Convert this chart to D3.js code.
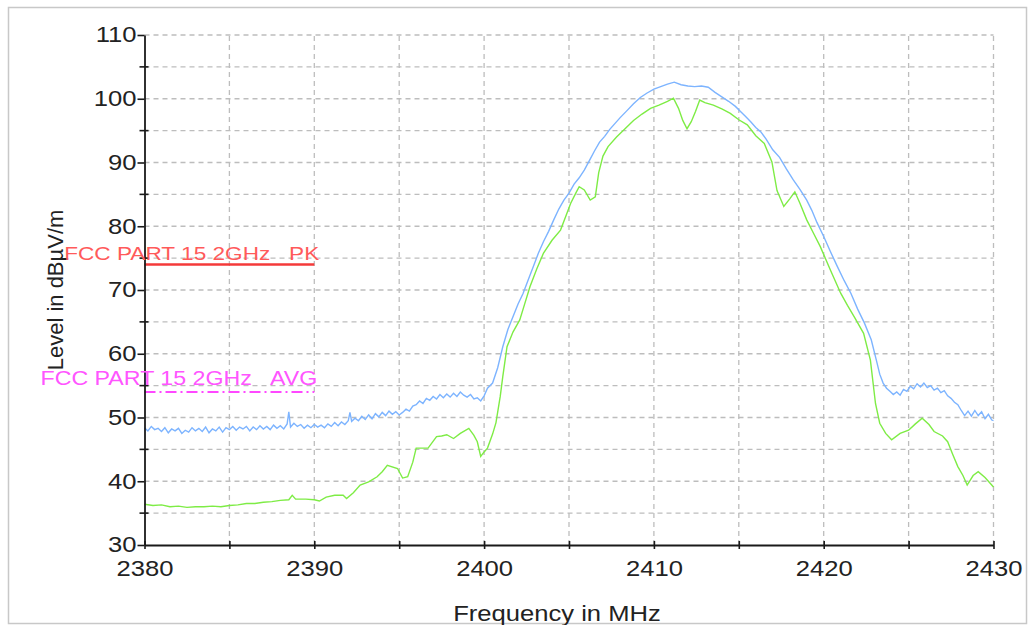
<!DOCTYPE html>
<meta charset="utf-8">
<script src="https://d3js.org/d3.v7.min.js"></script>
<style>
  body { margin: 0; background: #fff; }
  text { font-family: "Liberation Sans", Arial, sans-serif; }
</style>
<body>
<svg id="chart"></svg>
</body>
<script>
// sweep data (MHz, dBuV/m)
var peakFreq = [2380,2380.2,2380.4,2380.6,2380.8,2381,2381.2,2381.4,2381.6,2381.8,2382,2382.2,2382.4,2382.6,2382.8,2383,2383.2,2383.4,2383.6,2383.8,2384,2384.2,2384.4,2384.6,2384.8,2385,2385.2,2385.4,2385.6,2385.8,2386,2386.2,2386.4,2386.6,2386.8,2387,2387.2,2387.4,2387.6,2387.8,2388,2388.2,2388.4,2388.5,2388.6,2388.8,2389,2389.2,2389.4,2389.6,2389.8,2390,2390.2,2390.4,2390.6,2390.8,2391,2391.2,2391.4,2391.6,2391.8,2392,2392.1,2392.2,2392.4,2392.6,2392.8,2393,2393.2,2393.4,2393.6,2393.8,2394,2394.2,2394.4,2394.6,2394.8,2395,2395.2,2395.4,2395.6,2395.8,2396,2396.2,2396.4,2396.6,2396.8,2397,2397.2,2397.4,2397.6,2397.8,2398,2398.2,2398.4,2398.6,2398.8,2399,2399.2,2399.4,2399.6,2399.8,2400,2400.2,2400.5,2400.8,2401.1,2401.4,2401.7,2402,2402.3,2402.6,2402.9,2403.2,2403.5,2403.8,2404.1,2404.4,2404.7,2405,2405.3,2405.6,2405.9,2406.2,2406.5,2406.8,2407.1,2407.4,2407.7,2408,2408.4,2408.8,2409.2,2409.6,2410,2410.4,2410.8,2411.2,2411.6,2412,2412.4,2412.8,2413.2,2413.6,2414,2414.4,2414.8,2415.1,2415.4,2415.7,2416,2416.3,2416.6,2417,2417.4,2417.8,2418.2,2418.6,2419,2419.3,2419.6,2420,2420.4,2420.8,2421.2,2421.6,2422,2422.4,2422.8,2423.1,2423.3,2423.5,2423.7,2423.9,2424.1,2424.3,2424.5,2424.7,2424.9,2425.1,2425.3,2425.5,2425.7,2425.9,2426.1,2426.3,2426.5,2426.7,2426.9,2427.1,2427.3,2427.5,2427.7,2427.9,2428.1,2428.3,2428.5,2428.7,2428.9,2429.1,2429.3,2429.5,2429.7,2429.9,2430];
var peakLevel = [48.4,47.9,48.6,48.1,48.3,47.8,48.4,47.6,48.2,47.9,48.3,47.5,48.0,47.7,48.4,47.9,48.3,47.8,48.5,47.6,48.2,47.9,48.5,47.7,48.4,48.1,48.6,48.0,48.5,48.2,48.6,47.9,48.5,48.1,48.7,48.2,48.6,48.1,48.8,48.3,48.7,48.2,49.0,50.9,48.5,49.1,48.6,48.9,48.3,48.8,48.4,48.9,48.5,48.8,48.4,49.0,48.6,49.2,48.7,49.3,48.9,49.5,50.8,49.4,49.9,49.5,50.2,49.7,50.4,49.8,50.6,50.1,50.8,50.3,51.0,50.5,50.9,50.4,50.8,51.3,51.0,51.8,52.0,52.6,52.2,53.0,52.7,53.3,52.9,53.6,53.1,53.7,53.2,53.8,53.3,54.0,53.5,53.2,53.6,52.9,53.1,52.6,53.4,54.6,55.4,57.8,61.1,63.8,65.8,67.8,69.5,71.6,73.7,75.8,77.6,79.2,81.0,82.7,84.1,85.2,86.6,87.6,88.8,90.3,91.8,93.2,94.1,95.2,96.1,97.0,98.1,99.2,100.2,100.9,101.5,101.9,102.3,102.6,102.2,102.0,101.9,102.0,101.8,101.0,100.3,99.6,98.8,98.0,97.2,96.4,95.5,94.8,93.7,92.0,90.8,89.0,87.3,85.8,84.1,82.5,80.6,78.4,76.0,73.7,71.5,69.5,67.0,64.8,62.2,59.0,56.8,55.4,54.6,54.1,53.6,54.0,53.5,54.4,54.1,54.9,54.5,55.3,54.8,55.4,54.7,55.0,54.3,54.6,53.9,54.2,53.4,53.0,52.4,52.0,51.1,50.3,51.0,50.2,51.1,50.3,50.9,49.8,50.5,49.6,49.5];

var avgFreq = [2380,2380.5,2381,2381.5,2382,2382.5,2383,2383.5,2384,2384.5,2385,2385.5,2386,2386.5,2387,2387.5,2388,2388.5,2388.7,2388.9,2389.5,2390,2390.3,2390.7,2391.2,2391.7,2391.9,2392.3,2392.7,2393.2,2393.7,2394,2394.3,2394.9,2395.2,2395.5,2395.8,2396,2396.7,2397.2,2397.5,2397.8,2398.2,2398.6,2399.1,2399.4,2399.6,2399.8,2400,2400.2,2400.5,2400.7,2400.95,2401.1,2401.35,2401.7,2402.1,2402.4,2402.7,2403.1,2403.5,2404,2404.5,2404.8,2405.1,2405.4,2405.6,2405.9,2406.25,2406.55,2406.75,2407,2407.3,2407.8,2408.3,2408.8,2409.3,2409.8,2410.3,2410.8,2411.15,2411.45,2411.7,2411.95,2412.2,2412.45,2412.7,2413,2413.5,2414,2414.5,2415,2415.5,2416,2416.5,2416.95,2417.25,2417.65,2418,2418.3,2418.6,2419,2419.4,2419.8,2420.4,2421,2421.4,2421.8,2422.35,2422.75,2423.05,2423.3,2423.65,2424,2424.5,2425,2425.4,2425.8,2426.2,2426.5,2427,2427.3,2427.6,2427.9,2428.2,2428.45,2428.8,2429.1,2429.5,2430];
var avgLevel = [36.4,36.2,36.3,36.0,36.1,35.9,36.0,36.0,36.1,36.0,36.2,36.3,36.5,36.5,36.7,36.8,37.0,37.1,37.8,37.2,37.2,37.1,36.9,37.5,37.8,37.8,37.3,38.2,39.4,39.9,40.7,41.5,42.5,42.0,40.5,40.7,43.0,45.2,45.2,47.0,47.1,47.3,46.7,47.5,48.3,47.2,46.2,43.9,44.6,45.2,47.4,49.2,53.3,56.4,61.1,63.4,65.3,67.9,70.5,73.3,75.8,77.8,79.4,81.5,83.6,85.2,86.2,85.7,84.1,84.6,88.4,91.0,92.5,94.0,95.3,96.6,97.6,98.5,99.0,99.6,100.1,98.5,96.6,95.3,96.4,98.0,99.8,99.4,99.0,98.4,97.7,96.7,95.9,94.2,93.0,90.1,85.6,83.1,84.3,85.4,83.6,81.0,78.9,76.8,73.1,69.5,67.6,65.8,63.2,59.0,52.2,49.1,47.5,46.5,47.5,48.0,49.0,49.9,48.9,47.8,47.1,46.2,44.2,42.3,40.9,39.4,40.9,41.5,40.6,39.1];

// limit lines
var limitNames = ["FCC PART 15 2GHz   PK", "FCC PART 15 2GHz   AVG"];
var limitLevels = [74, 54];
var limitRange = [2380, 2390];

var xTickValues = [2380,2385,2390,2395,2400,2405,2410,2415,2420,2425,2430];
var yMajorTicks = [30,40,50,60,70,80,90,100,110];
var yMinorTicks = [35,45,55,65,75,85,95,105];
var yGridValues = [30,35,40,45,50,55,60,65,70,75,80,85,90,95,100,105,110];

var width = 1033, height = 625;
var stretchX = 1.19;

var svg = d3.select("#chart")
    .attr("width", width)
    .attr("height", height);

var x = d3.scaleLinear().domain([2380, 2430]).range([144.5, 993.5]);
var y = d3.scaleLinear().domain([30, 110]).range([545, 35]);

// outer frame
svg.append("rect")
    .attr("x", 8.5).attr("y", 7.5)
    .attr("width", 1018).attr("height", 616)
    .attr("fill", "none")
    .attr("stroke", "#c8c8c8")
    .attr("stroke-width", 1.5);

// grid
var grid = svg.append("g")
    .attr("stroke", "#bdbdbd")
    .attr("stroke-width", 1.3)
    .attr("stroke-dasharray", "5,4");

grid.selectAll(".hg")
    .data(yGridValues.slice(1))
  .enter().append("line")
    .attr("x1", x(2380)).attr("x2", x(2430))
    .attr("y1", function(d) { return y(d); })
    .attr("y2", function(d) { return y(d); });

grid.selectAll(".vg")
    .data(xTickValues.slice(1))
  .enter().append("line")
    .attr("x1", function(d) { return x(d); })
    .attr("x2", function(d) { return x(d); })
    .attr("y1", y(30)).attr("y2", y(110));

// limit lines
svg.append("line")
    .attr("x1", x(limitRange[0])).attr("x2", x(limitRange[1]))
    .attr("y1", y(limitLevels[0])).attr("y2", y(limitLevels[0]))
    .attr("stroke", "#f43a3a")
    .attr("stroke-width", 2.5);

svg.append("line")
    .attr("x1", x(limitRange[0])).attr("x2", x(limitRange[1]))
    .attr("y1", y(limitLevels[1])).attr("y2", y(limitLevels[1]))
    .attr("stroke", "#ff48ff")
    .attr("stroke-width", 2)
    .attr("stroke-dasharray", "11,4,2,4");

// traces
var line = d3.line()
    .x(function(d) { return x(d[0]); })
    .y(function(d) { return y(d[1]); });

svg.append("path")
    .datum(peakFreq.map(function(f, i) { return [f, peakLevel[i]]; }))
    .attr("d", line)
    .attr("fill", "none")
    .attr("stroke", "#7db4ff")
    .attr("stroke-width", 1.4);

svg.append("path")
    .datum(avgFreq.map(function(f, i) { return [f, avgLevel[i]]; }))
    .attr("d", line)
    .attr("fill", "none")
    .attr("stroke", "#7eec45")
    .attr("stroke-width", 1.4);

// axes
var yAxis = svg.append("g")
    .attr("transform", "translate(" + x(2380) + ",0)")
    .call(d3.axisLeft(y).tickValues(yMajorTicks).tickSize(7).tickSizeOuter(0).tickPadding(1));

var xAxis = svg.append("g")
    .attr("transform", "translate(0," + y(30) + ")")
    .call(d3.axisBottom(x).tickValues(xTickValues).tickSize(4).tickSizeOuter(0).tickPadding(12)
      .tickFormat(function(d) { return d % 10 === 0 ? d : ""; }));

xAxis.selectAll(".tick line").attr("y1", -4);

[yAxis, xAxis].forEach(function(a) {
  a.select(".domain").attr("stroke", "#1a1a1a").attr("stroke-width", 1.8);
  a.selectAll(".tick line").attr("stroke", "#1a1a1a").attr("stroke-width", 1.6);
  a.selectAll(".tick text")
    .attr("fill", "#222")
    .style("font-size", "21.5px")
    .style("font-family", "'Liberation Sans', Arial, sans-serif");
});

svg.append("g")
  .selectAll("line")
    .data(yMinorTicks)
  .enter().append("line")
    .attr("x1", x(2380) - 5).attr("x2", x(2380) + 4)
    .attr("y1", function(d) { return y(d); })
    .attr("y2", function(d) { return y(d); })
    .attr("stroke", "#1a1a1a")
    .attr("stroke-width", 1.6);

// axis titles
svg.append("text")
    .attr("class", "hz")
    .attr("x", 557).attr("y", 621)
    .attr("text-anchor", "middle")
    .attr("fill", "#222")
    .style("font-size", "21.5px")
    .text("Frequency in MHz");

svg.append("text")
    .attr("transform", "translate(63,290) rotate(-90)")
    .attr("text-anchor", "middle")
    .attr("fill", "#222")
    .style("font-size", "22px")
    .text("Level in dBµV/m");

// limit labels
svg.append("text")
    .attr("class", "hz")
    .attr("x", x(limitRange[1]) + 5).attr("y", y(limitLevels[0]) - 5)
    .attr("text-anchor", "end")
    .attr("fill", "#ff5a5a")
    .style("font-size", "19px")
    .style("white-space", "pre")
    .text(limitNames[0]);

svg.append("text")
    .attr("class", "hz")
    .attr("x", x(limitRange[1]) + 3).attr("y", y(limitLevels[1]) - 7)
    .attr("text-anchor", "end")
    .attr("fill", "#ff55ff")
    .style("font-size", "19.5px")
    .style("white-space", "pre")
    .text(limitNames[1]);

// the source picture is stretched horizontally, so widen the upright text
svg.selectAll(".tick text, text.hz").each(function() {
  var w = this.getComputedTextLength();
  if (w > 0) d3.select(this).attr("textLength", w * stretchX).attr("lengthAdjust", "spacingAndGlyphs");
});
</script>
